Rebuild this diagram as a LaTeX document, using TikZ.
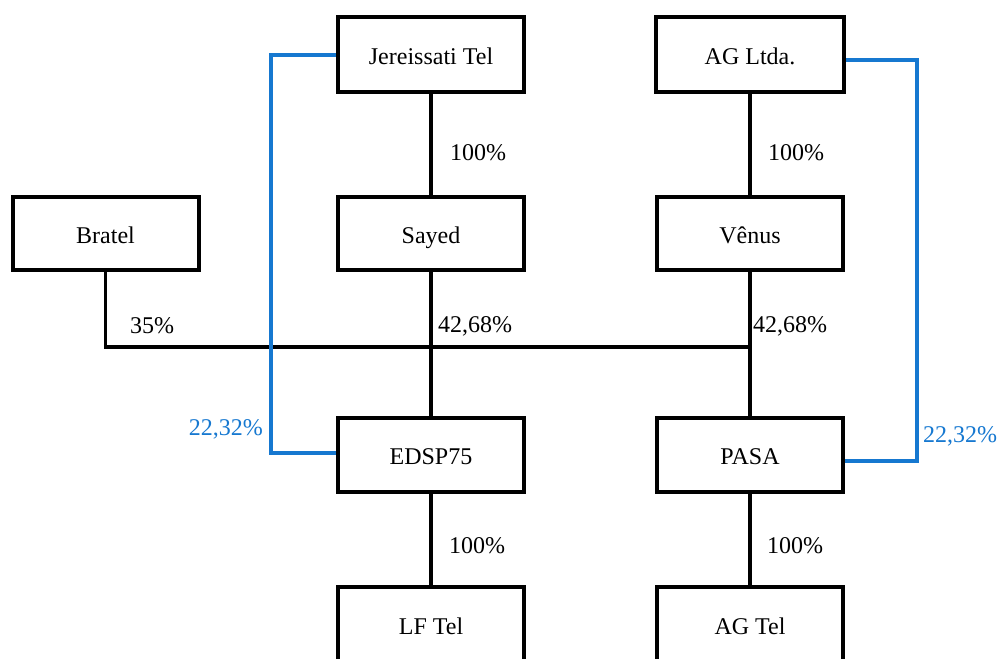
\documentclass[tikz,border=0pt]{standalone}
\usepackage{fontspec}
\setmainfont{Liberation Serif}
\definecolor{bluelink}{RGB}{22,120,208}
\begin{document}
\begin{tikzpicture}[x=1pt,y=-1pt,
  box/.style={draw=black,line width=4pt,minimum width=186pt,minimum height=75pt,inner sep=0pt,text height=19pt,text depth=0pt,font=\rmfamily\fontsize{24}{28}\selectfont},
  lbl/.style={inner sep=0pt,font=\rmfamily\fontsize{24}{28}\selectfont},
  blbl/.style={lbl,text=bluelink},
  link/.style={line width=3.8pt,black},
  blink/.style={line width=3.6pt,bluelink}]
\useasboundingbox (0,0) rectangle (1003,658);
\clip (0,0) rectangle (1003,658);
\node[box] (J) at (431,55) {Jereissati Tel};
\node[box,minimum width=188pt] (A) at (750,55) {AG Ltda.};
\node[box,minimum height=73pt,text height=20pt] (B) at (105.5,233.5) {Bratel};
\node[box,minimum height=73pt,text height=20pt] (S) at (431,233.5) {Sayed};
\node[box,minimum height=73pt,text height=20pt] (V) at (750,233.5) {Vênus};
\node[box,minimum height=74pt] (E) at (431,455) {EDSP75};
\node[box,minimum height=74pt] (P) at (750,455) {PASA};
\node[box,minimum height=76pt] (L) at (431,625) {LF Tel};
\node[box,minimum height=76pt] (G) at (750,625) {AG Tel};
\coordinate (junc) at (750,347);
\coordinate (bl) at (271,0);
\coordinate (br) at (917,0);
% black connectors
\draw[link] (J.south) -- (S.north);
\draw[link] (A.south) -- (V.north);
\draw[link] (S.south) -- (E.north);
\draw[link] (V.south) -- (P.north);
\draw[link] (E.south) -- (L.north);
\draw[link] (P.south) -- (G.north);
\draw[link] (B.south) |- (junc);
% blue connectors
\draw[blink] (J.west) -- (J.west -| bl) |- ([yshift=2pt]E.west);
\draw[blink] ([yshift=-5pt]A.east) -- ([yshift=-5pt]A.east -| br) |- ([yshift=-6pt]P.east);
% labels
\node[lbl] (l1) at (478,153) {100\%};
\node[lbl] (l2) at (796,153) {100\%};
\node[lbl] (l3) at (152,326) {35\%};
\node[lbl,anchor=west] (l4) at (438,326) {42,68\%};
\node[lbl,anchor=west] (l5) at (753,326) {42,68\%};
\node[blbl,anchor=east] (l6) at (263,429) {22,32\%};
\node[blbl,anchor=west] (l7) at (923,436) {22,32\%};
\node[lbl] (l8) at (477,546) {100\%};
\node[lbl] (l9) at (795,546) {100\%};
\end{tikzpicture}
\end{document}
